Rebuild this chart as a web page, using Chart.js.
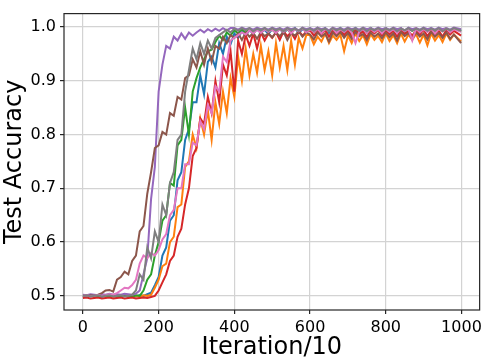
<!DOCTYPE html>
<html>
<head>
<meta charset="utf-8">
<script src="https://cdn.jsdelivr.net/npm/chart.js@4.4.0/dist/chart.umd.min.js"></script>
<style>
    html, body { margin: 0; padding: 0; background: #fff; }
    #wrap { width: 486px; height: 362px; }
</style>
</head>
<body>
<div id="wrap"><canvas id="accChart" width="486" height="362"></canvas></div>
<script>
const iterations = [
    0, 10, 20, 30, 40, 50, 60, 70, 80, 90,
    100, 110, 120, 130, 140, 150, 160, 170, 180, 190,
    200, 210, 220, 230, 240, 250, 260, 270, 280, 290,
    300, 310, 320, 330, 340, 350, 360, 370, 380, 390,
    400, 410, 420, 430, 440, 450, 460, 470, 480, 490,
    500, 510, 520, 530, 540, 550, 560, 570, 580, 590,
    600, 610, 620, 630, 640, 650, 660, 670, 680, 690,
    700, 710, 720, 730, 740, 750, 760, 770, 780, 790,
    800, 810, 820, 830, 840, 850, 860, 870, 880, 890,
    900, 910, 920, 930, 940, 950, 960, 970, 980, 999
];
const xTicks = [0, 200, 400, 600, 800, 1000];
const yTicks = [0.5, 0.6, 0.7, 0.8, 0.9, 1.0];

const blueRun = [
    0.500, 0.498, 0.501, 0.499, 0.500, 0.498, 0.501, 0.499, 0.500, 0.498,
    0.499, 0.501, 0.498, 0.500, 0.499, 0.501, 0.500, 0.503, 0.506, 0.520,
    0.535, 0.575, 0.590, 0.640, 0.650, 0.715, 0.730, 0.790, 0.810, 0.860,
    0.860, 0.910, 0.875, 0.935, 0.945, 0.925, 0.970, 0.950, 0.982, 0.968,
    0.988, 0.980, 0.992, 0.984, 0.994, 0.988, 0.996, 0.989, 0.995, 0.987,
    0.996, 0.990, 0.997, 0.988, 0.996, 0.991, 0.998, 0.989, 0.996, 0.992,
    0.997, 0.990, 0.996, 0.992, 0.998, 0.989, 0.997, 0.993, 0.998, 0.990,
    0.997, 0.992, 0.998, 0.990, 0.997, 0.993, 0.998, 0.991, 0.997, 0.993,
    0.998, 0.991, 0.997, 0.993, 0.998, 0.990, 0.997, 0.994, 0.998, 0.992,
    0.997, 0.993, 0.998, 0.991, 0.997, 0.994, 0.998, 0.992, 0.997, 0.993
];
const orangeRun = [
    0.500, 0.499, 0.501, 0.498, 0.500, 0.501, 0.499, 0.500, 0.498, 0.501,
    0.499, 0.500, 0.501, 0.499, 0.500, 0.498, 0.501, 0.500, 0.502, 0.515,
    0.530, 0.555, 0.560, 0.600, 0.610, 0.665, 0.670, 0.740, 0.750, 0.800,
    0.775, 0.830, 0.800, 0.845, 0.790, 0.860, 0.820, 0.880, 0.840, 0.905,
    0.870, 0.945, 0.900, 0.960, 0.910, 0.950, 0.915, 0.965, 0.920, 0.955,
    0.910, 0.970, 0.925, 0.965, 0.920, 0.975, 0.930, 0.980, 0.960, 0.985,
    0.985, 0.968, 0.982, 0.973, 0.988, 0.970, 0.984, 0.976, 0.986, 0.955,
    0.984, 0.970, 0.988, 0.974, 0.985, 0.968, 0.987, 0.976, 0.984, 0.972,
    0.988, 0.974, 0.985, 0.970, 0.988, 0.973, 0.986, 0.976, 0.987, 0.971,
    0.986, 0.966, 0.988, 0.975, 0.985, 0.972, 0.988, 0.976, 0.986, 0.973
];
const greenRun = [
    0.500, 0.501, 0.499, 0.500, 0.498, 0.501, 0.500, 0.499, 0.501, 0.500,
    0.499, 0.501, 0.500, 0.498, 0.501, 0.500, 0.510, 0.530, 0.540, 0.575,
    0.600, 0.640, 0.650, 0.710, 0.705, 0.780, 0.790, 0.850, 0.800, 0.880,
    0.905, 0.925, 0.940, 0.955, 0.958, 0.972, 0.984, 0.976, 0.990, 0.984,
    0.994, 0.988, 0.996, 0.989, 0.997, 0.991, 0.996, 0.990, 0.998, 0.991,
    0.995, 0.989, 0.997, 0.991, 0.996, 0.988, 0.997, 0.992, 0.998, 0.990,
    0.996, 0.991, 0.998, 0.989, 0.997, 0.992, 0.996, 0.988, 0.998, 0.992,
    0.996, 0.990, 0.998, 0.992, 0.997, 0.989, 0.998, 0.993, 0.996, 0.991,
    0.998, 0.990, 0.997, 0.992, 0.996, 0.988, 0.998, 0.993, 0.997, 0.991,
    0.998, 0.992, 0.996, 0.990, 0.998, 0.993, 0.997, 0.991, 0.998, 0.992
];
const redRun = [
    0.496, 0.497, 0.495, 0.496, 0.497, 0.495, 0.496, 0.497, 0.495, 0.496,
    0.497, 0.495, 0.496, 0.497, 0.495, 0.496, 0.497, 0.496, 0.498, 0.500,
    0.510, 0.525, 0.540, 0.565, 0.575, 0.610, 0.625, 0.670, 0.700, 0.760,
    0.775, 0.830, 0.820, 0.870, 0.840, 0.900, 0.860, 0.930, 0.910, 0.955,
    0.880, 0.975, 0.950, 0.985, 0.965, 0.988, 0.960, 0.990, 0.975, 0.988,
    0.980, 0.990, 0.976, 0.992, 0.983, 0.990, 0.978, 0.993, 0.984, 0.991,
    0.994, 0.984, 0.992, 0.986, 0.995, 0.982, 0.993, 0.987, 0.995, 0.985,
    0.993, 0.983, 0.995, 0.986, 0.992, 0.981, 0.994, 0.988, 0.995, 0.984,
    0.994, 0.986, 0.993, 0.982, 0.995, 0.987, 0.992, 0.984, 0.994, 0.986,
    0.995, 0.983, 0.993, 0.987, 0.994, 0.982, 0.995, 0.986, 0.993, 0.984
];
const purpleRun = [
    0.502, 0.501, 0.503, 0.502, 0.501, 0.503, 0.502, 0.504, 0.502, 0.503,
    0.502, 0.504, 0.503, 0.502, 0.504, 0.510, 0.540, 0.570, 0.680, 0.740,
    0.880, 0.930, 0.965, 0.960, 0.982, 0.975, 0.988, 0.978, 0.990, 0.984,
    0.990, 0.995, 0.990, 0.996, 0.992, 0.997, 0.993, 0.998, 0.994, 0.998,
    0.998, 0.995, 0.999, 0.996, 0.998, 0.995, 0.999, 0.996, 0.998, 0.995,
    0.999, 0.996, 0.998, 0.995, 0.999, 0.996, 0.998, 0.994, 0.999, 0.996,
    0.998, 0.995, 0.999, 0.996, 0.998, 0.994, 0.999, 0.996, 0.998, 0.995,
    0.999, 0.996, 0.998, 0.995, 0.999, 0.996, 0.998, 0.995, 0.999, 0.996,
    0.998, 0.995, 0.999, 0.996, 0.998, 0.994, 0.999, 0.996, 0.998, 0.995,
    0.999, 0.996, 0.998, 0.995, 0.999, 0.996, 0.998, 0.995, 0.999, 0.996
];
const brownRun = [
    0.500, 0.499, 0.501, 0.500, 0.502, 0.505, 0.510, 0.511, 0.508, 0.530,
    0.535, 0.545, 0.540, 0.565, 0.575, 0.620, 0.630, 0.690, 0.730, 0.775,
    0.780, 0.805, 0.800, 0.840, 0.835, 0.870, 0.865, 0.905, 0.910, 0.940,
    0.925, 0.955, 0.930, 0.960, 0.935, 0.965, 0.960, 0.982, 0.970, 0.985,
    0.980, 0.988, 0.976, 0.990, 0.982, 0.989, 0.978, 0.991, 0.983, 0.988,
    0.981, 0.990, 0.983, 0.991, 0.976, 0.989, 0.984, 0.992, 0.982, 0.990,
    0.986, 0.977, 0.990, 0.982, 0.988, 0.973, 0.990, 0.983, 0.991, 0.980,
    0.989, 0.978, 0.991, 0.983, 0.987, 0.976, 0.990, 0.982, 0.988, 0.979,
    0.990, 0.981, 0.988, 0.975, 0.991, 0.983, 0.989, 0.978, 0.990, 0.982,
    0.988, 0.977, 0.991, 0.982, 0.989, 0.980, 0.990, 0.978, 0.986, 0.970
];
const pinkRun = [
    0.500, 0.501, 0.499, 0.500, 0.502, 0.500, 0.501, 0.503, 0.502, 0.505,
    0.510, 0.515, 0.514, 0.520, 0.530, 0.560, 0.575, 0.570, 0.580, 0.575,
    0.585, 0.605, 0.615, 0.650, 0.660, 0.700, 0.700, 0.745, 0.745, 0.785,
    0.780, 0.825, 0.810, 0.855, 0.840, 0.890, 0.880, 0.945, 0.935, 0.975,
    0.980, 0.985, 0.990, 0.986, 0.994, 0.988, 0.995, 0.989, 0.996, 0.991,
    0.995, 0.989, 0.996, 0.991, 0.997, 0.988, 0.996, 0.992, 0.997, 0.990,
    0.996, 0.991, 0.997, 0.988, 0.996, 0.992, 0.997, 0.989, 0.996, 0.991,
    0.997, 0.990, 0.970, 0.992, 0.996, 0.989, 0.997, 0.991, 0.996, 0.988,
    0.997, 0.991, 0.996, 0.989, 0.997, 0.992, 0.996, 0.975, 0.997, 0.990,
    0.996, 0.991, 0.997, 0.988, 0.996, 0.992, 0.997, 0.990, 0.996, 0.991
];
const grayRun = [
    0.500, 0.501, 0.499, 0.500, 0.501, 0.499, 0.500, 0.501, 0.499, 0.500,
    0.501, 0.499, 0.500, 0.502, 0.510, 0.540, 0.530, 0.590, 0.570, 0.620,
    0.600, 0.670, 0.650, 0.710, 0.730, 0.790, 0.800, 0.880, 0.920, 0.960,
    0.940, 0.970, 0.950, 0.975, 0.960, 0.980, 0.985, 0.990, 0.995, 0.990,
    0.997, 0.993, 0.998, 0.994, 0.998, 0.992, 0.997, 0.994, 0.998, 0.993,
    0.998, 0.994, 0.997, 0.992, 0.998, 0.994, 0.997, 0.993, 0.998, 0.994,
    0.997, 0.993, 0.998, 0.994, 0.997, 0.992, 0.998, 0.994, 0.997, 0.993,
    0.998, 0.994, 0.997, 0.993, 0.998, 0.992, 0.997, 0.994, 0.998, 0.993,
    0.997, 0.994, 0.998, 0.992, 0.997, 0.994, 0.998, 0.993, 0.997, 0.994,
    0.998, 0.993, 0.997, 0.994, 0.998, 0.992, 0.997, 0.994, 0.998, 0.993
];

const runs = [blueRun, orangeRun, greenRun, redRun, purpleRun, brownRun, pinkRun, grayRun];
const runColors = ['#1f77b4', '#ff7f0e', '#2ca02c', '#d62728', '#9467bd', '#8c564b', '#e377c2', '#7f7f7f'];

const FONT = 'DejaVu Sans';

// matplotlib style box around the axes, drawn above the lines
const framePlugin = {
    id: 'frame',
    afterDatasetsDraw(chart) {
        const { ctx, chartArea: a } = chart;
        ctx.save();
        ctx.strokeStyle = '#262626';
        ctx.lineWidth = 1.2;
        ctx.strokeRect(a.left, a.top, a.right - a.left, a.bottom - a.top);
        ctx.restore();
    }
};

const gridStyle = {
    color: '#d3d3d3',
    lineWidth: 1.2,
    tickColor: '#262626',
    tickLength: 4,
    tickWidth: 1.2
};

new Chart(document.getElementById('accChart'), {
    type: 'line',
    data: {
        datasets: runs.map((vals, i) => ({
            data: iterations.map((x, j) => ({ x: x, y: vals[j] })),
            borderColor: runColors[i],
            borderWidth: 2,
            pointRadius: 0,
            tension: 0,
            fill: false,
            order: runs.length - i
        }))
    },
    options: {
        responsive: false,
        animation: false,
        layout: { padding: { top: 2, right: 4, left: 0, bottom: 0 } },
        plugins: {
            legend: { display: false },
            tooltip: { enabled: false }
        },
        scales: {
            x: {
                type: 'linear',
                min: -50,
                max: 1048,
                afterBuildTicks: s => { s.ticks = xTicks.map(v => ({ value: v })); },
                afterFit: s => { s.height = 52; },
                grid: gridStyle,
                border: { display: false },
                ticks: {
                    color: '#000',
                    font: { family: FONT, size: 16 },
                    padding: 4,
                    maxRotation: 0,
                    callback: v => String(v)
                },
                title: {
                    display: true,
                    text: 'Iteration/10',
                    color: '#000',
                    font: { family: FONT, size: 24 },
                    padding: { top: 0, bottom: 0 }
                }
            },
            y: {
                min: 0.4737,
                max: 1.025,
                afterBuildTicks: s => { s.ticks = yTicks.map(v => ({ value: v })); },
                afterFit: s => { s.width = 64; },
                grid: gridStyle,
                border: { display: false },
                ticks: {
                    color: '#000',
                    font: { family: FONT, size: 16 },
                    padding: 4,
                    callback: v => v.toFixed(1)
                },
                title: {
                    display: true,
                    text: 'Test Accuracy',
                    color: '#000',
                    font: { family: FONT, size: 24 },
                    padding: { top: 0, bottom: 0 }
                }
            }
        }
    },
    plugins: [framePlugin]
});
</script>
</body>
</html>
